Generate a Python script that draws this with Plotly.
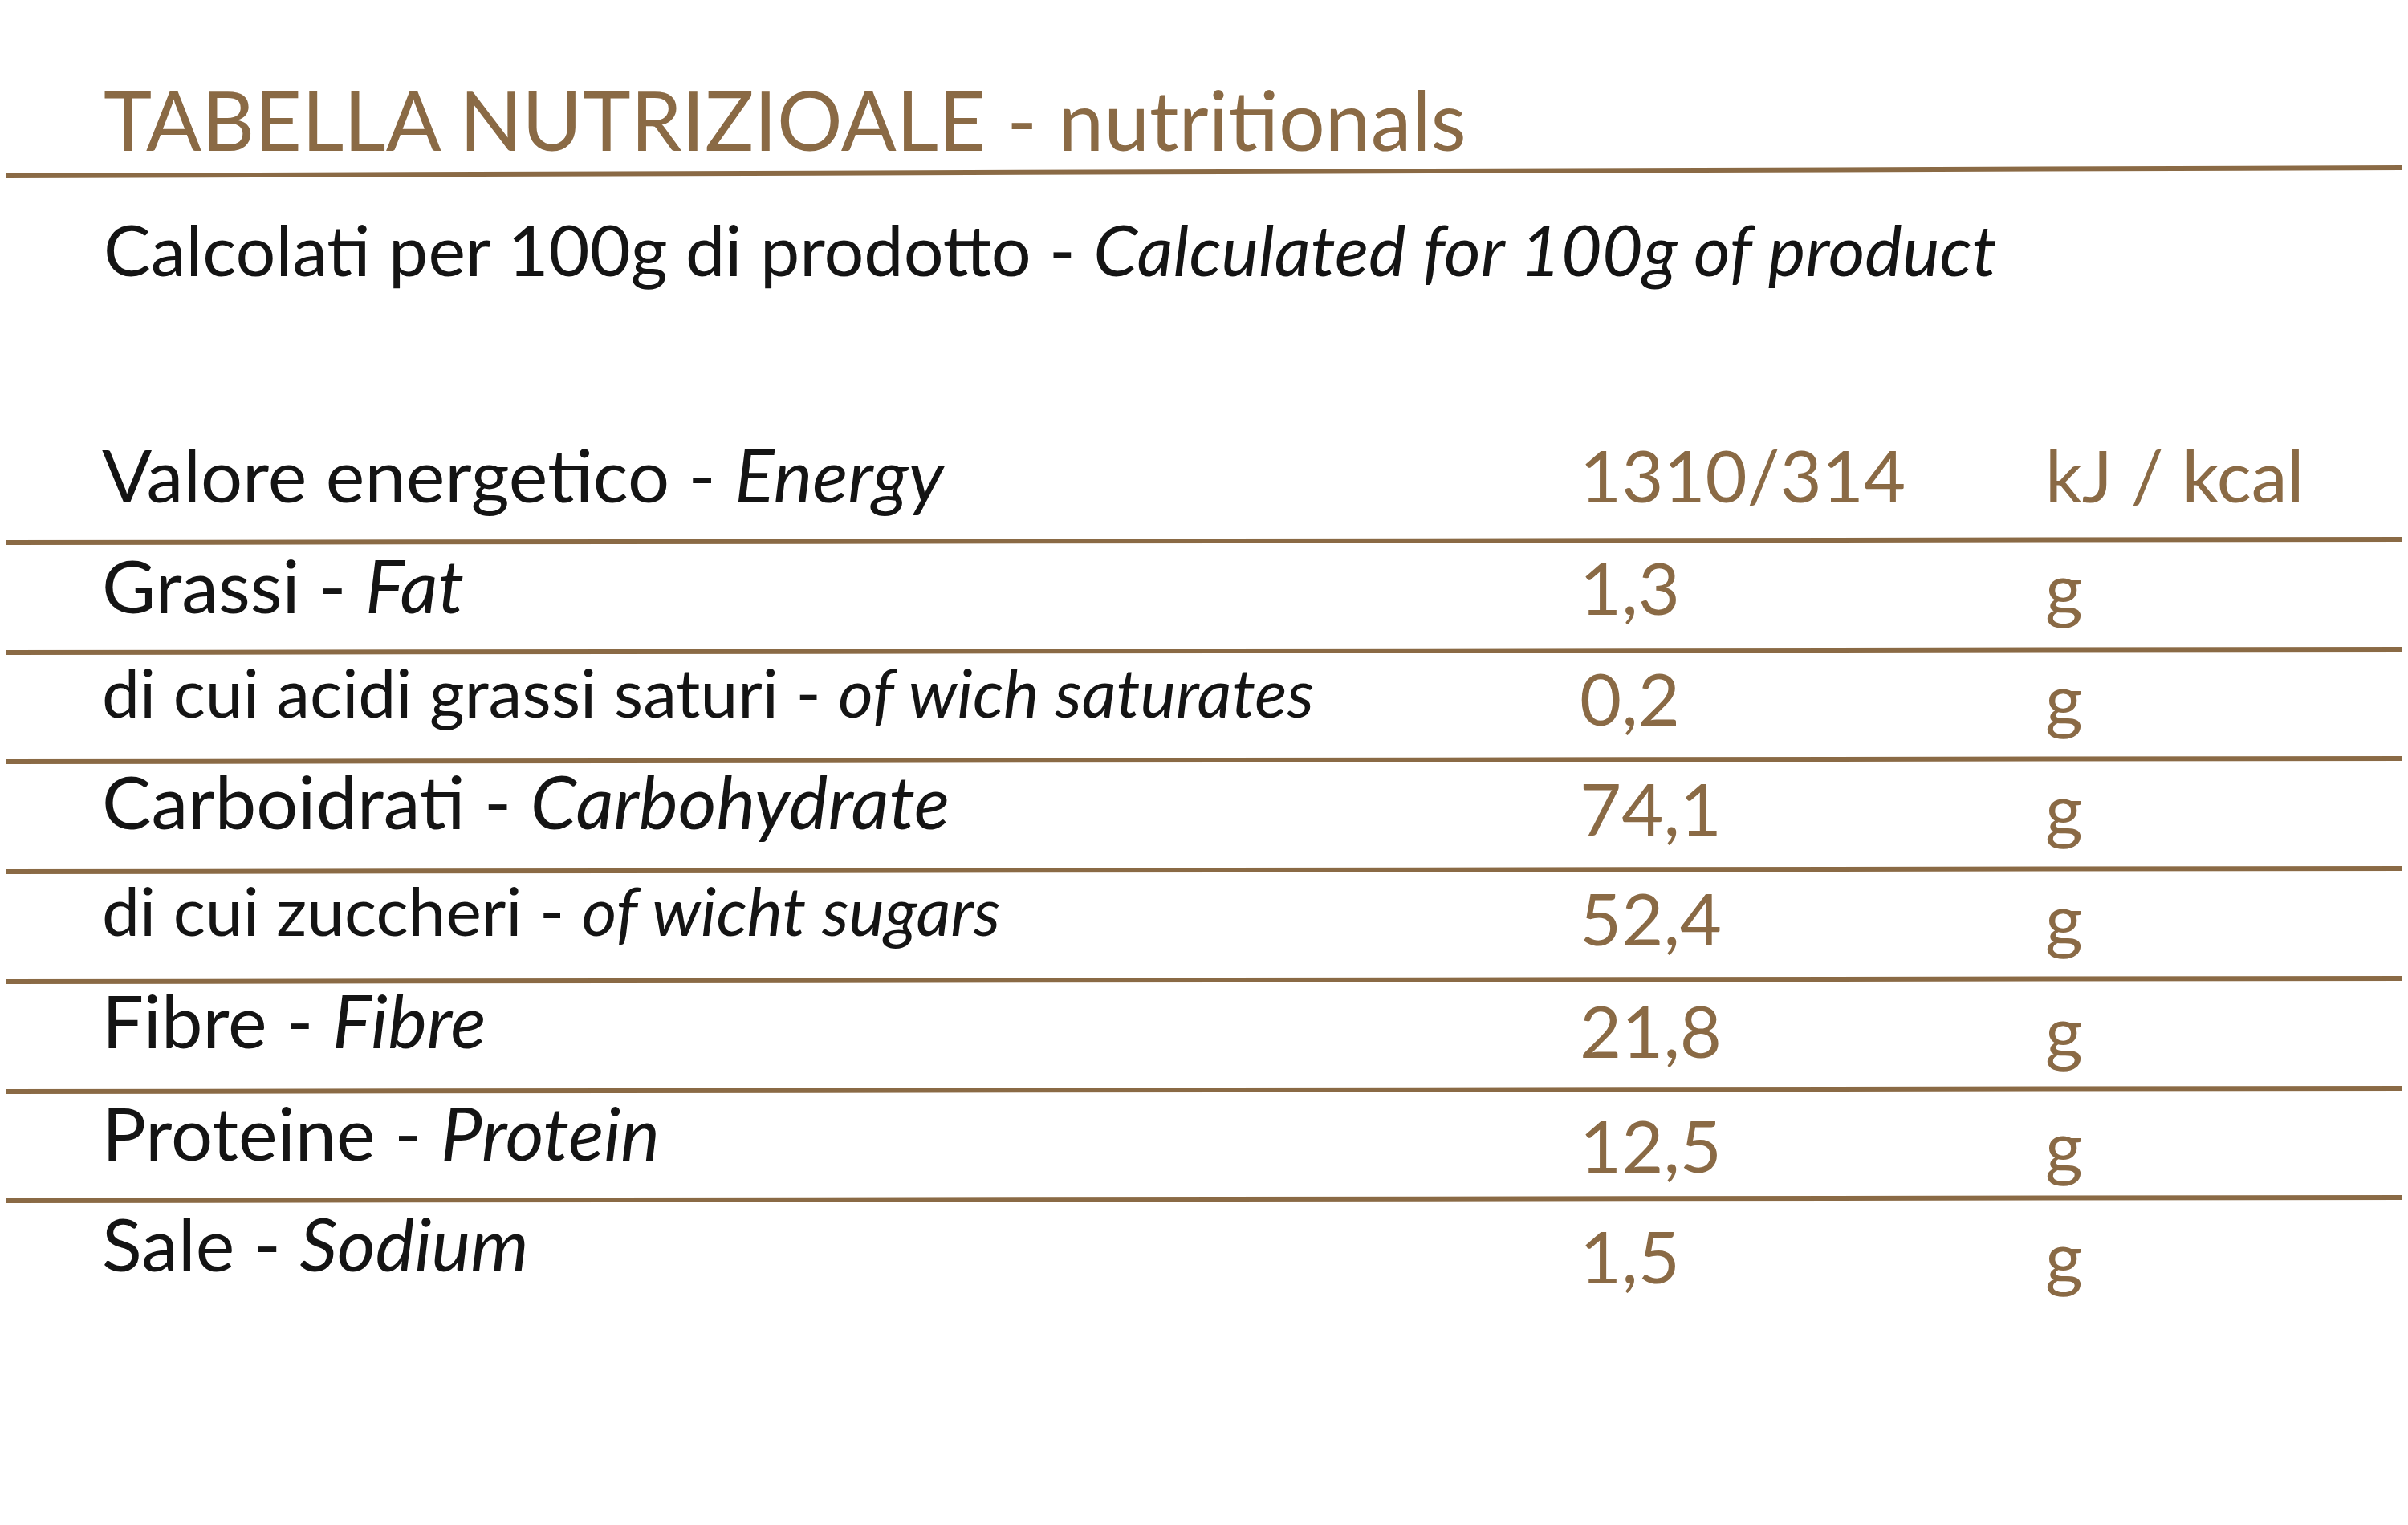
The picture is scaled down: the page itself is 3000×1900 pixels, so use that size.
import plotly.graph_objects as go

# table content
labels_it = ["Valore energetico", "Grassi", "di cui acidi grassi saturi", "Carboidrati",
             "di cui zuccheri", "Fibre", "Proteine", "Sale"]
labels_en = ["Energy", "Fat", "of wich saturates", "Carbohydrate",
             "of wicht sugars", "Fibre", "Protein", "Sodium"]
values = ["1310/314", "1,3", "0,2", "74,1", "52,4", "21,8", "12,5", "1,5"]
units = ["kJ / kcal", "g", "g", "g", "g", "g", "g", "g"]
small_row = [False, False, True, False, True, False, False, False]

BROWN = "#8a6a45"
BLACK = "#141414"
FONT = "Lato"
W, H = 3000, 1900

label_y = [595, 733, 865, 1002, 1137, 1275, 1415, 1553]
value_y = [595, 735, 873, 1010, 1147, 1287, 1430, 1568]
line_y = [668, 805, 941, 1078, 1215, 1352, 1488]

fig = go.Figure()

fig.add_trace(go.Scatter(
    x=[119] * len(labels_it), y=label_y, mode="text",
    text=[f"{a} - <i>{b}</i>" for a, b in zip(labels_it, labels_en)],
    textposition="middle right",
    textfont=dict(family=FONT, color=BLACK, size=[84 if s else 92 for s in small_row]),
    hoverinfo="skip", showlegend=False))
fig.add_trace(go.Scatter(
    x=[1960] * len(values), y=value_y, mode="text", text=values,
    textposition="middle right", textfont=dict(family=FONT, color=BROWN, size=90),
    hoverinfo="skip", showlegend=False))
fig.add_trace(go.Scatter(
    x=[2540] * len(units), y=value_y, mode="text", text=units,
    textposition="middle right", textfont=dict(family=FONT, color=BROWN, size=90),
    hoverinfo="skip", showlegend=False))

# title and subtitle
fig.add_annotation(x=119, y=140, xref="x", yref="y", xanchor="left", yanchor="middle",
                   text="TABELLA NUTRIZIOALE - nutritionals", showarrow=False,
                   font=dict(family=FONT, color=BROWN, size=102))
fig.add_annotation(x=119, y=302, xref="x", yref="y", xanchor="left", yanchor="middle",
                   text="Calcolati per 100g di prodotto - <i>Calculated for 100g of product</i>",
                   showarrow=False, font=dict(family=FONT, color=BLACK, size=88))

# rules
fig.add_shape(type="line", x0=0, x1=W, y0=211, y1=201, line=dict(color=BROWN, width=6))
for ly in line_y:
    fig.add_shape(type="line", x0=0, x1=W, y0=ly, y1=ly - 4, line=dict(color=BROWN, width=6))

fig.update_layout(
    width=W, height=H, margin=dict(l=0, r=0, t=0, b=0),
    plot_bgcolor="white", paper_bgcolor="white",
    xaxis=dict(range=[0, W], visible=False),
    yaxis=dict(range=[H, 0], visible=False),
)

fig.write_html("out.html")
